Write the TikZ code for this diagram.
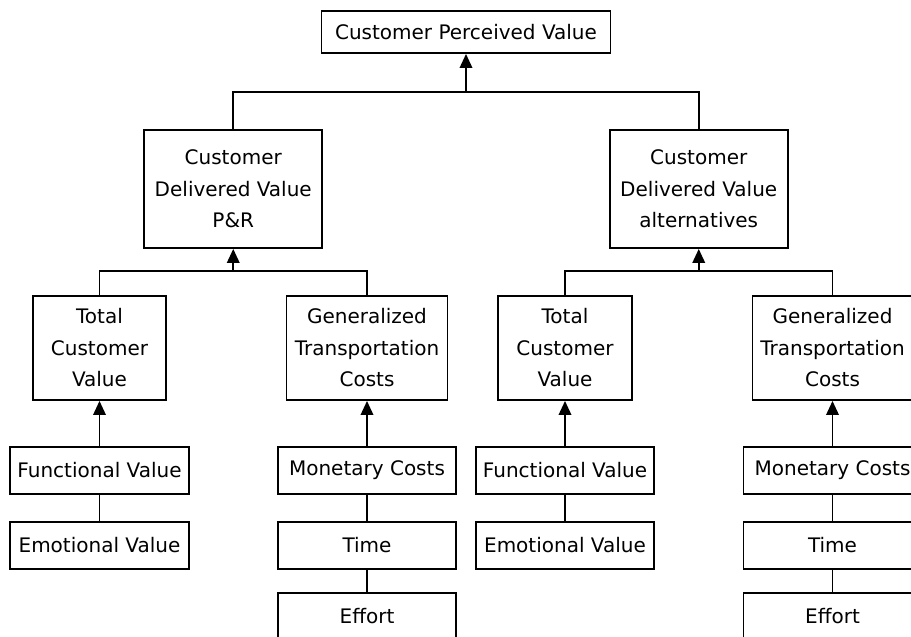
\documentclass[tikz,border=0pt]{standalone}
\usepackage{fontspec}
\setmainfont{DejaVu Sans}
\usetikzlibrary{arrows.meta}
\begin{document}
\begin{tikzpicture}[x=1pt,y=-1pt,
  box/.style={draw=black, line width=1.9pt, fill=white, inner sep=0pt,
    align=center, font=\fontsize{20}{31.5}\selectfont},
  wide/.style={minimum width=#1, minimum height=47pt},
  link/.style={draw=black, line width=1.9pt},
  arr/.style={link, -{Triangle[width=12.5pt,length=14pt]}},
]
\useasboundingbox (0,0) rectangle (911,637);
\fill[white] (0,0) rectangle (911,637);
\begin{scope}
\clip (0,0) rectangle (911,637);

% top level
\node[box, minimum width=289pt, minimum height=42pt] (cpv) at (466,32) {Customer Perceived Value};

% delivered value boxes
\node[box, minimum width=178pt, minimum height=118pt] (pr)  at (233.25,189) {Customer\\Delivered Value\\P\&R};
\node[box, minimum width=178pt, minimum height=118pt] (alt) at (698.75,189) {Customer\\Delivered Value\\alternatives};

% value / cost boxes
\node[box, minimum width=133pt, minimum height=104pt] (tcvL) at (99.5,348) {Total\\Customer\\Value};
\node[box, minimum width=161pt, minimum height=104pt] (gtcL) at (367,348) {Generalized\\Transportation\\Costs};
\node[box, minimum width=134pt, minimum height=104pt] (tcvR) at (565,348) {Total\\Customer\\Value};
\node[box, minimum width=160pt, minimum height=104pt] (gtcR) at (832.5,348) {Generalized\\Transportation\\Costs};

% components, left branch
\node[box, wide=179pt] (funL) at (99.5,470.5) {Functional Value};
\node[box, wide=179pt] (emoL) at (99.5,545.5) {Emotional Value};
\node[box, wide=178pt] (monL) at (367,470.5) {Monetary Costs};
\node[box, wide=178pt] (timL) at (367,545.5) {Time};
\node[box, wide=178pt] (effL) at (367,616.5) {Effort};

% components, right branch
\node[box, wide=178pt] (funR) at (565,470.5) {Functional Value};
\node[box, wide=178pt] (emoR) at (565,545.5) {Emotional Value};
\node[box, wide=178pt] (monR) at (832.5,470.5) {Monetary Costs};
\node[box, wide=178pt] (timR) at (832.5,545.5) {Time};
\node[box, wide=178pt] (effR) at (832.5,616.5) {Effort};

% junction points
\coordinate (j0) at (466,92);
\coordinate (jL) at (233.25,271);
\coordinate (jR) at (698.75,271);

% connectors
\draw[link] (pr.north) |- (j0) -| (alt.north);
\draw[arr] (j0) -- (cpv.south);

\draw[link] (tcvL.north) |- (jL) -| (gtcL.north);
\draw[arr] (jL) -- (pr.south);
\draw[link] (tcvR.north) |- (jR) -| (gtcR.north);
\draw[arr] (jR) -- (alt.south);

\draw[arr] (funL) -- (tcvL);
\draw[link] (funL) -- (emoL);
\draw[arr] (monL) -- (gtcL);
\draw[link] (monL) -- (timL);
\draw[link] (timL) -- (effL);

\draw[arr] (funR) -- (tcvR);
\draw[link] (funR) -- (emoR);
\draw[arr] (monR) -- (gtcR);
\draw[link] (monR) -- (timR);
\draw[link] (timR) -- (effR);
\end{scope}
\end{tikzpicture}
\end{document}
